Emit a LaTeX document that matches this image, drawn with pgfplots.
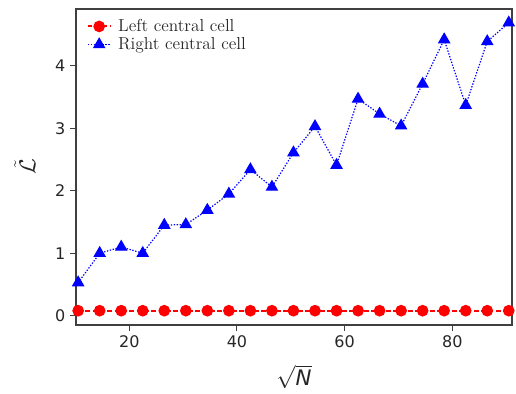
\documentclass[border=0pt]{standalone}
\usepackage{fontspec}
\usepackage{pgfplots}
\pgfplotsset{compat=1.18}
\newfontfamily\dejavu{DejaVu Sans}
\definecolor{axgray}{HTML}{404040}
\definecolor{txtgray}{HTML}{262626}
\begin{document}
\begin{tikzpicture}
\begin{axis}[
  scale only axis,
  width=327pt, height=237pt,
  xmin=10.1, xmax=91.1,
  ymin=-0.149, ymax=4.91,
  xtick={20,40,60,80},
  ytick={0,1,2,3,4},
  tick align=outside,
  major tick length=4.5pt,
  axis line style={axgray, line width=0.8pt},
  every tick/.style={axgray, line width=0.8pt},
  xtick pos=bottom, ytick pos=left,
  /pgf/number format/assume math mode=true,
  ticklabel style={font=\dejavu\fontsize{12}{14}\selectfont, text=txtgray},
  xlabel={$\sqrt{\mbox{\dejavu\itshape N}}$},
  ylabel={$\tilde{\mathcal{L}}$},
  xlabel style={font=\fontsize{16}{18}\selectfont, text=txtgray, yshift=-6pt},
  ylabel style={font=\fontsize{16}{18}\selectfont, text=txtgray, yshift=8pt},
  legend style={draw=none, fill=none, at={(0.015,0.985)}, anchor=north west,
    font=\fontsize{13}{15}\selectfont, row sep=-1pt, column sep=3pt, text=txtgray},
  legend cell align=left,
  clip=false,
]
\addplot[red, line width=1.5pt, dash pattern=on 3.5pt off 2pt, mark=*, mark size=3.6pt, mark options={solid}]
coordinates {
(10.5,0.08)(14.5,0.08)(18.5,0.08)(22.5,0.08)(26.5,0.08)(30.5,0.08)(34.5,0.08)
(38.5,0.08)(42.5,0.08)(46.5,0.08)(50.5,0.08)(54.5,0.08)(58.5,0.08)(62.5,0.08)
(66.5,0.08)(70.5,0.08)(74.5,0.08)(78.5,0.08)(82.5,0.08)(86.5,0.08)(90.5,0.08)};
\addlegendentry{Left central cell}
\addplot[blue, line width=0.9pt, dash pattern=on 1pt off 1.2pt, mark=triangle*, mark size=4.6pt, mark options={solid}]
coordinates {
(10.5,0.53)(14.5,1.00)(18.5,1.10)(22.5,1.00)(26.5,1.45)(30.5,1.46)(34.5,1.69)
(38.5,1.95)(42.5,2.34)(46.5,2.06)(50.5,2.61)(54.5,3.03)(58.5,2.41)(62.5,3.47)
(66.5,3.23)(70.5,3.04)(74.5,3.71)(78.5,4.42)(82.5,3.37)(86.5,4.39)(90.5,4.69)};
\addlegendentry{Right central cell}
\end{axis}
\path ([xshift=-57pt,yshift=-51pt]current axis.south west) rectangle ([xshift=3pt,yshift=6.75pt]current axis.north east);
\end{tikzpicture}
\end{document}
